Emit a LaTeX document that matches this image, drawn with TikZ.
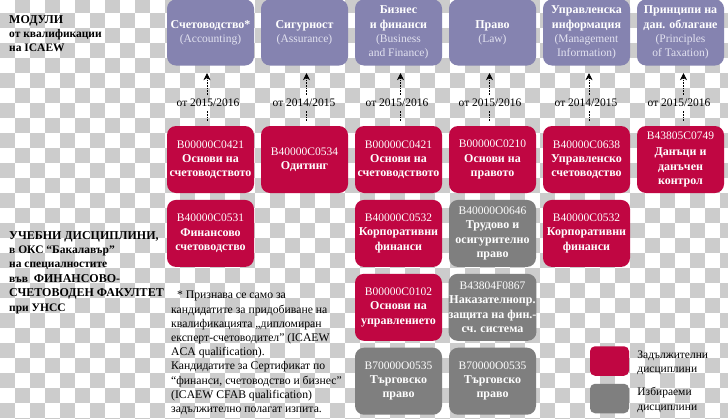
\documentclass[tikz,border=0pt]{standalone}
\usepackage{fontspec}
\setmainfont{Liberation Serif}
\usepackage{xcolor}
\usetikzlibrary{arrows.meta, positioning}
\definecolor{modcolor}{RGB}{133,131,176}
\definecolor{reqcolor}{RGB}{192,6,66}
\definecolor{optcolor}{RGB}{127,127,127}
\definecolor{chkcolor}{RGB}{204,204,204}
\definecolor{soft}{RGB}{226,226,240}
\newcommand{\nm}[1]{{\fontsize{12}{14.2}\selectfont\bfseries #1}}

\begin{document}
\begin{tikzpicture}[
    x=1pt, y=-1pt,
    box/.style={rectangle, rounded corners=9pt, minimum width=87pt, minimum height=67pt, inner sep=0pt,
                align=center, text=white, font=\fontsize{11.5}{14.2}\selectfont},
    modbox/.style={box, fill=modcolor, minimum height=66pt},
    reqbox/.style={box, fill=reqcolor},
    optbox/.style={box, fill=optcolor},
    keybox/.style={rectangle, rounded corners=5pt, minimum width=39pt, minimum height=29.5pt, inner sep=0pt},
    yearlabel/.style={inner sep=1pt, font=\fontsize{11.5}{14}\selectfont},
    heading/.style={anchor=north west, inner sep=0pt, align=left, font=\fontsize{11.5}{14.4}\selectfont\bfseries},
    note/.style={anchor=north west, inner sep=0pt, align=left, font=\fontsize{11.7}{14.2}\selectfont},
    keytext/.style={right=8pt of #1, yshift=-1.5pt, inner sep=0pt, align=left, font=\fontsize{11.5}{14.4}\selectfont},
    dep/.style={densely dotted, semithick},
    node distance=6.5pt and 6.6pt
]
\useasboundingbox (0,0) rectangle (728,418);
\clip (0,0) rectangle (728,418);

% Checker background
\fill[white] (0,0) rectangle (728,418);
\foreach \c in {0,...,48}
  \foreach \r in {0,...,28} {
    \pgfmathparse{int(mod(\c+\r,2))}
    \ifnum\pgfmathresult=1
      \fill[chkcolor] (15*\c,12.7+15*\r-15) rectangle +(15,15);
    \fi
  }

% Modules
\node[modbox] (acc) at (210.5,32.5) {\nm{Счетоводство*}\\\textcolor{soft}{(Accounting)}};
\node[modbox, right=of acc] (assur) {\nm{Сигурност}\\\textcolor{soft}{(Assurance)}};
\node[modbox, right=of assur] (busin) {\nm{Бизнес}\\\nm{и финанси}\\\textcolor{soft}{(Business}\\\textcolor{soft}{and Finance)}};
\node[modbox, right=of busin] (law) {\nm{Право}\\\textcolor{soft}{(Law)}};
\node[modbox, right=of law] (manag) {\nm{Управленска}\\\nm{информация}\\\textcolor{soft}{(Management}\\\textcolor{soft}{Information)}};
\node[modbox, right=of manag] (tax) {\nm{Принципи на}\\\nm{дан. облагане}\\\textcolor{soft}{(Principles}\\\textcolor{soft}{of Taxation)}};

% Disciplines, first row
\node[reqbox] (ca) at (210.5,159.5) {B00000C0421\\\nm{Основи на}\\\nm{счетоводството}};
\node[reqbox, right=of ca] (cb) {B40000C0534\\\nm{Одитинг}};
\node[reqbox, right=of cb] (cc) {B00000C0421\\\nm{Основи на}\\\nm{счетоводството}};
\node[reqbox, right=of cc] (cd) {B00000C0210\\\nm{Основи на}\\\nm{правото}};
\node[reqbox, right=of cd] (ce) {B40000C0638\\\nm{Управленско}\\\nm{счетоводство}};
\node[reqbox, right=of ce] (cf) {B43805C0749\\[2pt]\nm{Данъци и}\\\nm{данъчен}\\\nm{контрол}};

% Lower rows
\node[reqbox, below=of ca] (fin) {B40000C0531\\\nm{Финансово}\\\nm{счетоводство}};
\node[reqbox, below=of cc] (corp) {B40000C0532\\\nm{Корпоративни}\\\nm{финанси}};
\node[optbox, below=of cd] (labor) {B40000O0646\\\nm{Трудово и}\\\nm{осигурително}\\\nm{право}};
\node[reqbox, below=of ce] (corpb) {B40000C0532\\\nm{Корпоративни}\\\nm{финанси}};
\node[reqbox, below=of corp] (mgmt) {B00000C0102\\\nm{Основи на}\\\nm{управлението}};
\node[optbox, below=of labor] (crim) {B43804F0867\\\nm{Наказателнопр.}\\\nm{защита на фин.-}\\\nm{сч. система}};
\node[optbox, below=of mgmt] (trade) {B70000O0535\\\nm{Търговско}\\\nm{право}};
\node[optbox, below=of crim] (tradeb) {B70000O0535\\\nm{Търговско}\\\nm{право}};

% Year labels
\node[yearlabel] (ya) at (208,103) {от 2015/2016};
\node[yearlabel] (yb) at (304,103) {от 2014/2015};
\node[yearlabel] (yc) at (397,103) {от 2015/2016};
\node[yearlabel] (yd) at (490,103) {от 2015/2016};
\node[yearlabel] (ye) at (586,103) {от 2014/2015};
\node[yearlabel] (yf) at (679,103) {от 2015/2016};

% Arrows
\foreach \low/\year/\up/\shift in {ca/ya/acc/-3.5, cb/yb/assur/2, cc/yc/busin/2, cd/yd/law/-3, ce/ye/manag/2.5, cf/yf/tax/3} {
  \draw[dep] ([xshift=\shift pt, yshift=5pt]\low.north) -- ([xshift=\shift pt, yshift=-3pt]\low.north |- \year.south);
  \draw[dep, -{Stealth[length=7pt, width=7pt]}] ([xshift=\shift pt, yshift=3pt]\up.south |- \year.north) -- ([xshift=\shift pt, yshift=-7.5pt]\up.south);
}

% Left headings
\node[heading] (modtitle) at (9,15) {{\fontsize{12}{14.4}\selectfont МОДУЛИ}\\от квалификации\\на ICAEW};
\node[heading] (distitle) at (9,231) {{\fontsize{12}{14.4}\selectfont УЧЕБНИ ДИСЦИПЛИНИ,}\\в ОКС “Бакалавър”\\на специалностите\\във\ \ {\fontsize{12}{14.4}\selectfont ФИНАНСОВО-}\\{\fontsize{12}{14.4}\selectfont СЧЕТОВОДЕН ФАКУЛТЕТ}\\при УНСС};

% Footnote
\node[note] (footnote) at (171,291) {\ \ * Признава се само за\\кандидатите за придобиване на\\квалификацията „дипломиран\\експерт-счетоводител” (ICAEW\\ACA qualification).\\Кандидатите за Сертификат по\\“финанси, счетоводство и бизнес”\\(ICAEW CFAB qualification)\\задължително полагат изпита.};

% Legend
\node[keybox, fill=reqcolor] (reqkey) at (609.5,361) {};
\node[keybox, fill=optcolor] (optkey) at (609.5,398.5) {};
\node[keytext=reqkey] (reqtext) {Задължителни\\дисциплини};
\node[keytext=optkey] (opttext) {Избираеми\\дисциплини};

\end{tikzpicture}
\end{document}
